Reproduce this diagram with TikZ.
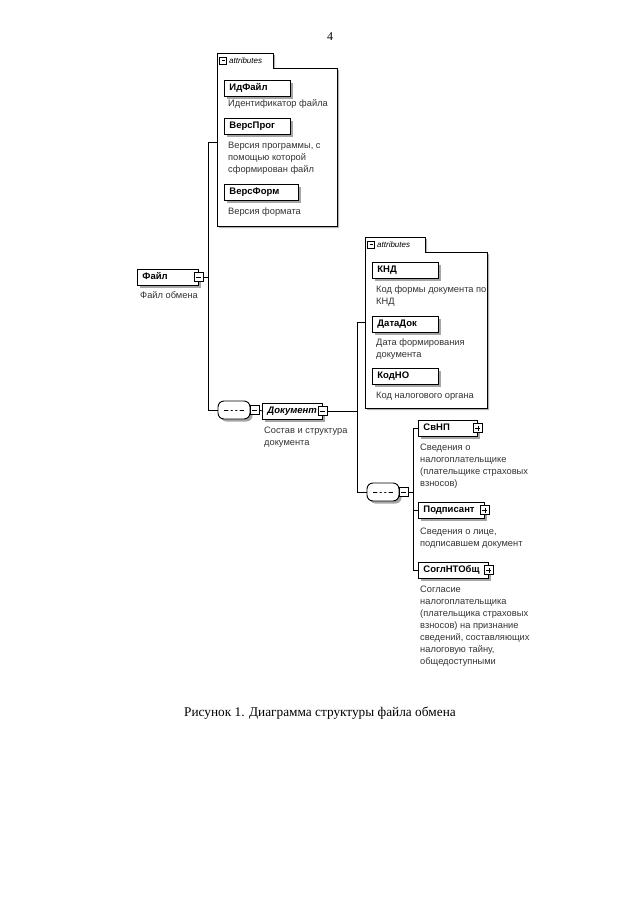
\documentclass[tikz,border=0pt]{standalone}
\usepackage{fontspec}
\setmainfont{Liberation Sans}
\newfontfamily\capfont{Liberation Serif}
\usetikzlibrary{positioning,shadows,calc}

\begin{document}
\begin{tikzpicture}[
  x=1pt, y=-1pt,
  conn/.style={line width=0.8pt},
  shade/.style={drop shadow={shadow xshift=2.5pt, shadow yshift=-2.5pt, fill=black!35, opacity=1}},
  elem/.style={draw=black, fill=white, line width=0.9pt, minimum height=16pt, inner xsep=5pt, inner ysep=0pt, text height=7pt, text depth=2pt, anchor=west, align=left, text width=#1, font=\fontsize{9.5}{11}\selectfont\bfseries, shade},
  desc/.style={anchor=north west, inner sep=0pt, align=left, text=black!80, font=\fontsize{9.3}{12}\selectfont},
  minusbox/.style={draw, fill=white, line width=0.7pt, minimum size=9pt, inner sep=0pt,
    path picture={\draw[line width=0.7pt] ([xshift=2pt]path picture bounding box.west) -- ([xshift=-2pt]path picture bounding box.east);}},
  plusbox/.style={minusbox,
    path picture={\draw[line width=0.7pt] ([xshift=2pt]path picture bounding box.west) -- ([xshift=-2pt]path picture bounding box.east)
      ([yshift=-2pt]path picture bounding box.north) -- ([yshift=2pt]path picture bounding box.south);}},
  tabbox/.style={minusbox, minimum size=7pt},
  seq/.style={draw, fill=white, line width=0.9pt, rounded corners=6pt, minimum width=32pt, minimum height=18pt, inner sep=0pt, shade,
    path picture={\draw[line width=1pt] ([xshift=-10pt]path picture bounding box.center) -- ([xshift=10pt]path picture bounding box.center);
      \fill ([xshift=-4.5pt]path picture bounding box.center) circle (1.6pt)
            (path picture bounding box.center) circle (1.6pt)
            ([xshift=4.5pt]path picture bounding box.center) circle (1.6pt);}},
  attframe/.style={draw, fill=white, line width=0.8pt, drop shadow={shadow xshift=2pt, shadow yshift=-2pt, fill=black!30, opacity=1}},
  tabtext/.style={anchor=west, inner sep=0pt, font=\fontsize{8}{10}\selectfont\itshape}
]
\useasboundingbox (0,0) rectangle (640,905);

%% ============ Page number ============
\node[font=\capfont\fontsize{12}{14}\selectfont] (pagenum) at (330,37) {4};

%% ============ Attributes of Файл (top box) ============
\path[attframe] (217,53) -- (273,53) -- (273,68) -- (337,68) -- (337,226) -- (217,226) -- cycle;
\node[tabbox] (tabA) at (223,60.5) {};
\node[tabtext] (tabAtxt) at (229,60.5) {attributes};

\node[elem=56pt] (idfile)   at (224,88)  {ИдФайл};
\node[desc]      (idfiled)  at (228,99.5) {Идентификатор файла};
\node[elem=56pt] (versprog) at (224,126) {ВерсПрог};
\node[desc]      (versprogd) at (228,141.5) {Версия программы, с\\помощью которой\\сформирован файл};
\node[elem=64pt] (versform) at (224,192) {ВерсФорм};
\node[desc]      (versformd) at (228,207.5) {Версия формата};

%% ============ Root element Файл ============
\node[elem=51pt] (file)  at (137,277) {Файл};
\node[minusbox]  (filex) at (file.east) {};
\node[desc]      (filed) at (140,291.5) {Файл обмена};

\coordinate (busA) at (208,142);
\coordinate (attA) at (217,142);

%% sequence under Файл
\node[seq]      (seqA)  at (234,410) {};
\node[minusbox] (seqAx) at (254.5,410) {};

%% ============ Документ ============
\node[elem=50pt] (doc)  at (262,411) {\itshape Документ};
\node[minusbox]  (docx) at (doc.east) {};
\node[desc]      (docd) at (264,426.5) {Состав и структура\\документа};

\draw[conn] (filex.east) -- (filex.east -| busA);
\draw[conn] (attA) -- (busA) |- (seqA.west);
\draw[conn] (seqAx.east) -- (doc.west);

%% ============ Attributes of Документ ============
\path[attframe] (365,237) -- (425,237) -- (425,252) -- (487,252) -- (487,408) -- (365,408) -- cycle;
\node[tabbox] (tabB) at (371,244.5) {};
\node[tabtext] (tabBtxt) at (377,244.5) {attributes};

\node[elem=56pt] (knd)     at (372,270) {КНД};
\node[desc]      (kndd)    at (376,285.5) {Код формы документа по\\КНД};
\node[elem=56pt] (datadok) at (372,324) {ДатаДок};
\node[desc]      (datadokd) at (376,338.5) {Дата формирования\\документа};
\node[elem=56pt] (kodno)   at (372,376) {КодНО};
\node[desc]      (kodnod)  at (376,391.5) {Код налогового органа};

\coordinate (busB) at (357,322);
\coordinate (attB) at (365,322);

%% sequence under Документ
\node[seq]      (seqB)  at (383,492) {};
\node[minusbox] (seqBx) at (403.5,492) {};

\draw[conn] (docx.east) -- (docx.east -| busB);
\draw[conn] (attB) -- (busB) |- (seqB.west);

%% ============ Children of Документ ============
\node[elem=49pt] (svnp)  at (418,428) {СвНП};
\node[plusbox]   (svnpx) at (svnp.east) {};
\node[desc]      (svnpd) at (420,443.5) {Сведения о\\налогоплательщике\\(плательщике страховых\\взносов)};

\node[elem=56pt] (podp)  at (418,510) {Подписант};
\node[plusbox]   (podpx) at (podp.east) {};
\node[desc]      (podpd) at (420,527.5) {Сведения о лице,\\подписавшем документ};

\node[elem=60pt] (sogl)  at (418,570) {СоглНТОбщ};
\node[plusbox]   (soglx) at (sogl.east) {};
\node[desc]      (sogld) at (420,585.5) {Согласие\\налогоплательщика\\(плательщика страховых\\взносов) на признание\\сведений, составляющих\\налоговую тайну,\\общедоступными};

\coordinate (busC) at (413,428);
\draw[conn] (svnp.west) -- (busC) |- (sogl.west);
\draw[conn] (podp.west) -- (podp.west -| busC);
\draw[conn] (seqBx.east) -- (seqBx.east -| busC);

%% ============ Caption ============
\node[font=\capfont\fontsize{13.3}{16}\selectfont] (caption) at (320,713) {Рисунок 1. Диаграмма структуры файла обмена};

\end{tikzpicture}
\end{document}
